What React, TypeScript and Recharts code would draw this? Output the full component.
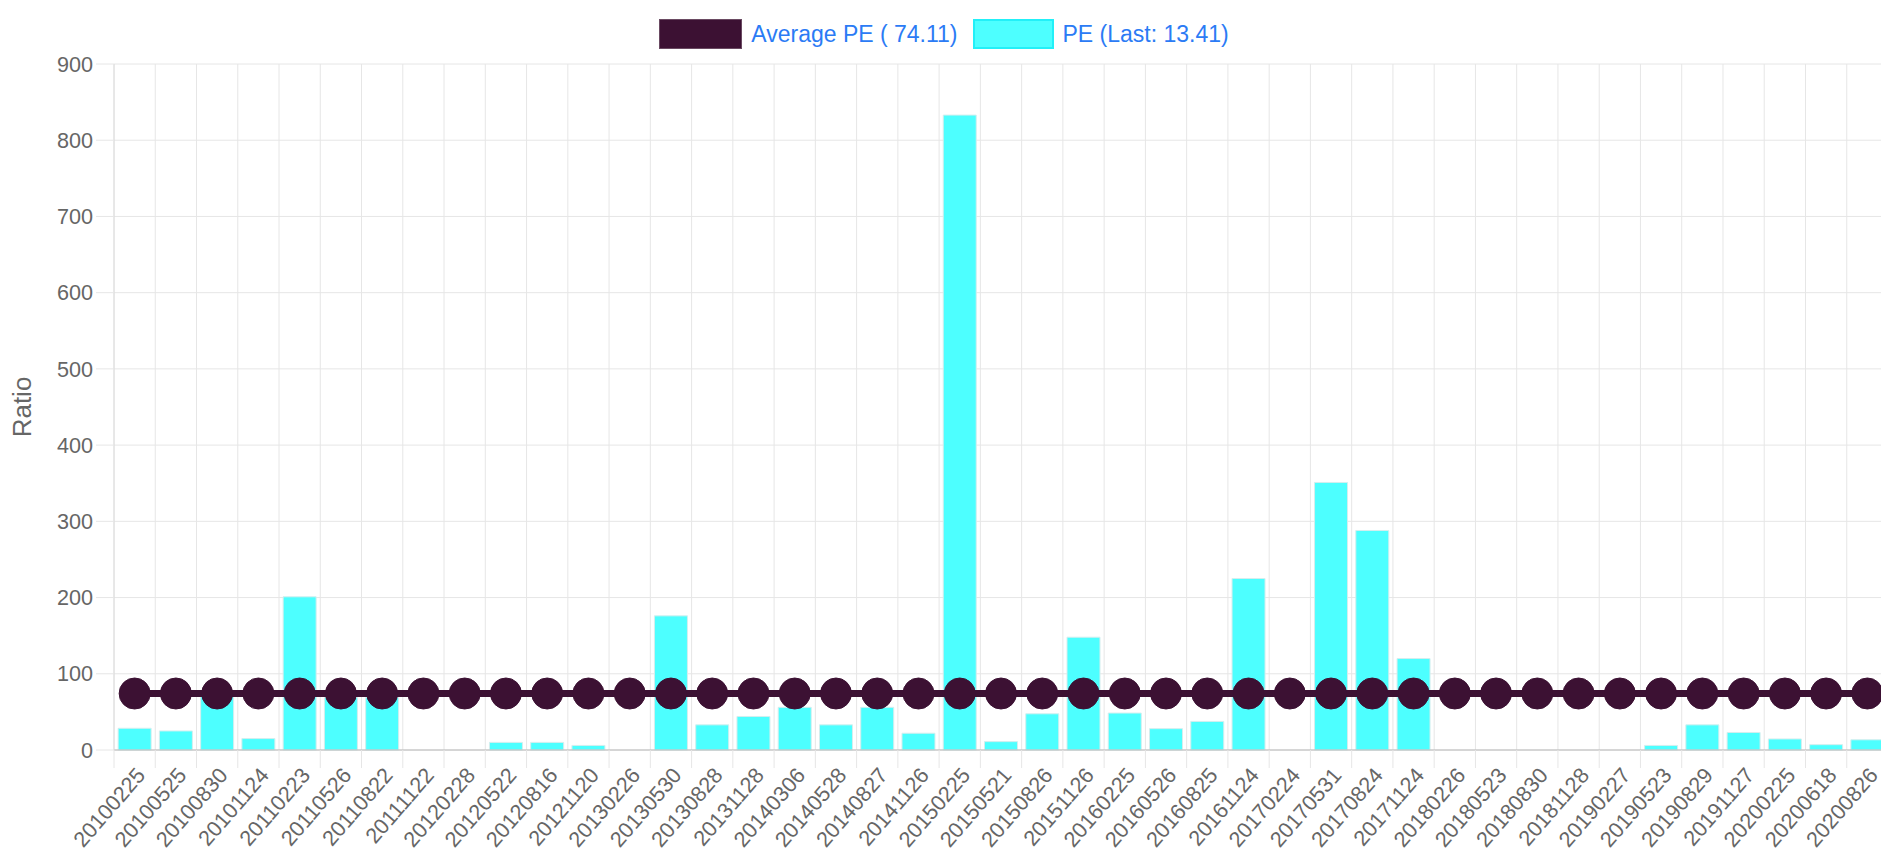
import React from 'react';
import { ComposedChart, Bar, Line, XAxis, YAxis, CartesianGrid, Legend } from 'recharts';

const dates = [
  '20100225', '20100525', '20100830', '20101124', '20110223', '20110526', '20110822', '20111122',
  '20120228', '20120522', '20120816', '20121120', '20130226', '20130530', '20130828', '20131128',
  '20140306', '20140528', '20140827', '20141126', '20150225', '20150521', '20150826', '20151126',
  '20160225', '20160526', '20160825', '20161124', '20170224', '20170531', '20170824', '20171124',
  '20180226', '20180523', '20180830', '20181128', '20190227', '20190523', '20190829', '20191127',
  '20200225', '20200618', '20200826',
];

const peValues = [
  28.5, 25, 70, 15, 201, 69, 69, 0,
  0, 10, 10, 6, 0, 176, 33, 44,
  56, 33, 56, 22, 833, 11, 47.5, 148,
  48.5, 28, 37.5, 225, 0, 351, 288, 120,
  0, 0, 0, 0, 0, 6, 33, 23,
  14.5, 7, 13.41,
];

const averagePe = [
  74.11, 74.11, 74.11, 74.11, 74.11, 74.11, 74.11, 74.11,
  74.11, 74.11, 74.11, 74.11, 74.11, 74.11, 74.11, 74.11,
  74.11, 74.11, 74.11, 74.11, 74.11, 74.11, 74.11, 74.11,
  74.11, 74.11, 74.11, 74.11, 74.11, 74.11, 74.11, 74.11,
  74.11, 74.11, 74.11, 74.11, 74.11, 74.11, 74.11, 74.11,
  74.11, 74.11, 74.11,
];

const yTicks = [0, 100, 200, 300, 400, 500, 600, 700, 800, 900];

const data = dates.map((d, i) => ({ date: d, pe: peValues[i], avg: averagePe[i] }));

const CHART_W = 1888;
const CHART_H = 853;
const Y_AXIS_W = 114;
const BAND = (CHART_W - Y_AXIS_W) / dates.length;

const FONT = '"Liberation Sans", Arial, Helvetica, sans-serif';
const DARK = '#3c1133';
const CYAN = '#4dffff';
const GRID = '#e6e6e6';

const XTick = (props: any) => {
  const { x, y, payload } = props;
  return (
    <g transform={`translate(${x},${y})`}>
      <line x1={-BAND / 2} x2={-BAND / 2} y1={0} y2={18} stroke={GRID} />
      <text
        transform="translate(6,21) rotate(-49)"
        textAnchor="end"
        dy="0.35em"
        fill="#666"
        fontSize={21.6}
        fontFamily={FONT}
      >
        {payload.value}
      </text>
    </g>
  );
};

const LegendContent = () => (
  <div
    style={{
      height: 56,
      paddingTop: 11,
      boxSizing: 'border-box',
      display: 'flex',
      justifyContent: 'center',
      fontFamily: FONT,
      fontSize: 23,
      color: '#2b7bf5',
    }}
  >
    <div style={{ display: 'flex', alignItems: 'center', height: 30 }}>
      <span style={{ width: 83, height: 30, background: DARK, boxSizing: 'border-box', border: '1px solid #6a4a62' }} />
      <span style={{ marginLeft: 9 }}>Average PE ( 74.11)</span>
    </div>
    <div style={{ display: 'flex', alignItems: 'center', height: 30, marginLeft: 15 }}>
      <span style={{ width: 81, height: 30, background: CYAN, boxSizing: 'border-box', border: '2px solid #22f0f8' }} />
      <span style={{ marginLeft: 9 }}>PE (Last: 13.41)</span>
    </div>
  </div>
);

const RatioLabel = (props: any) => {
  const { viewBox } = props;
  const cx = viewBox.x + 22;
  const cy = viewBox.y + viewBox.height / 2;
  return (
    <text
      x={cx}
      y={cy}
      transform={`rotate(-90 ${cx} ${cy})`}
      textAnchor="middle"
      dominantBaseline="central"
      fill="#666"
      fontSize={26}
      fontFamily={FONT}
    >
      Ratio
    </text>
  );
};

const App: React.FC = () => {
  return (
    <div style={{ position: 'absolute', left: 0, top: 0, width: 1881, height: 853, overflow: 'hidden', background: '#fff' }}>
      <ComposedChart
        width={CHART_W}
        height={CHART_H}
        data={data}
        margin={{ top: 8, right: 0, left: 0, bottom: 0 }}
        barCategoryGap="10%"
      >
        <CartesianGrid
          stroke={GRID}
          verticalCoordinatesGenerator={({ offset }: any) =>
            dates.map((_, i) => offset.left + i * (offset.width / dates.length)).concat(offset.left + offset.width)
          }
        />
        <XAxis
          dataKey="date"
          interval={0}
          height={103}
          tickSize={0}
          tickMargin={0}
          tickLine={false}
          axisLine={{ stroke: '#b8b8b8' }}
          tick={<XTick />}
        />
        <YAxis
          width={Y_AXIS_W}
          domain={[0, 900]}
          ticks={yTicks}
          interval={0}
          tickSize={18}
          tickMargin={3}
          tickLine={{ stroke: GRID }}
          axisLine={{ stroke: '#dcdcdc' }}
          tick={{ fill: '#666', fontSize: 21.6, fontFamily: FONT }}
          label={{ content: <RatioLabel /> }}
        />
        <Legend verticalAlign="top" align="center" content={<LegendContent />} />
        <Bar dataKey="pe" name="PE (Last: 13.41)" fill={CYAN} stroke="#d4eeee" strokeWidth={1} isAnimationActive={false} />
        <Line
          dataKey="avg"
          name="Average PE ( 74.11)"
          type="linear"
          stroke={DARK}
          strokeWidth={7}
          dot={{ r: 15.5, fill: DARK, stroke: DARK, strokeWidth: 1 }}
          activeDot={false}
          isAnimationActive={false}
        />
      </ComposedChart>
    </div>
  );
};

export default App;
